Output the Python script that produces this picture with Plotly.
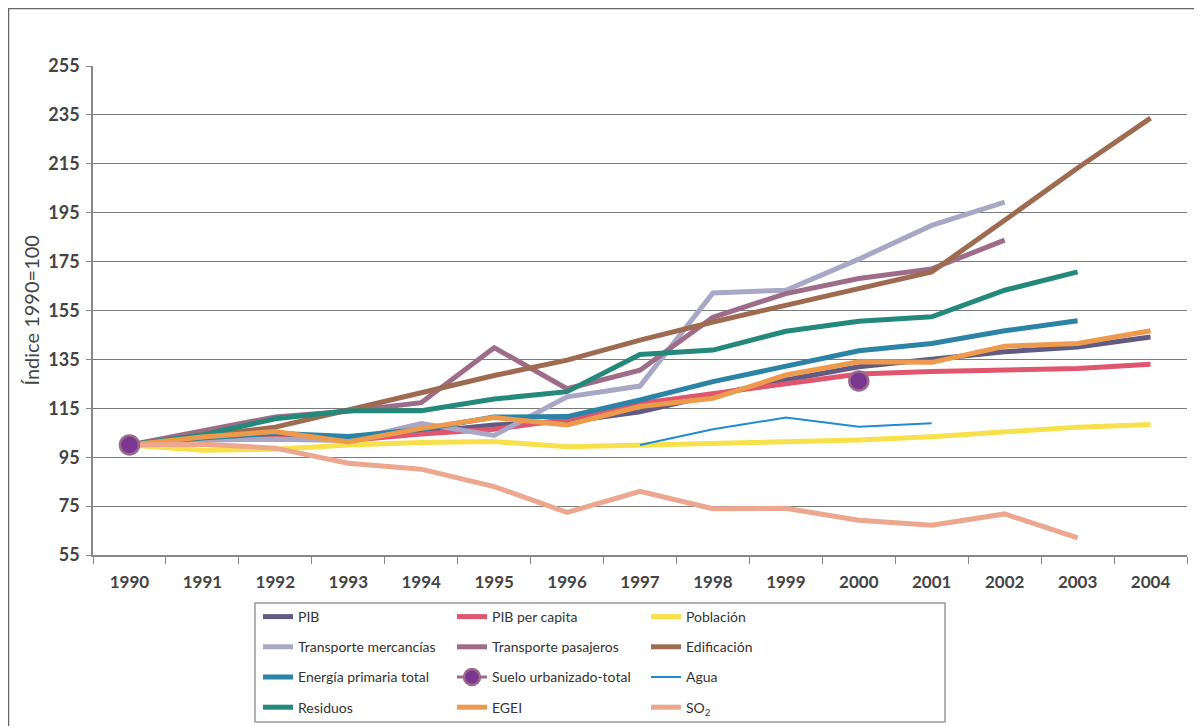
import plotly.graph_objects as go

years = [str(y) for y in range(1990, 2005)]

pib = [100, 102.3, 104.2, 102.2, 105, 108.2, 109.5, 113.6, 120.4, 126.6, 132, 135, 138.1, 140.1, 144.2]
pib_pc = [100, 102, 103.8, 101.8, 104.5, 106.4, 110.5, 117, 121.1, 125.2, 129, 130, 130.9, 131.3, 133]
poblacion = [100, 97.8, 98.3, 100, 101, 101.4, 99.3, 100, 100.7, 101.1, 102, 103.4, 105.4, 107.3, 108.4]
t_merc = [100, 102, 102.3, 101.8, 108.8, 103.9, 119.7, 124.1, 162.2, 163.3, 176, 189.8, 199.3, None, None]
t_pas = [100, 106, 111.5, 113.8, 117.3, 139.8, 123, 130.6, 152.2, 161.9, 168.1, 172, 183.8, None, None]
edificacion = [100, 103.5, 107.3, 114.3, 121.6, 128.4, 134.7, 142.9, 150.3, 157.2, 164, 170.8, 191.9, 213.3, 233.7]
energia = [100, 102.8, 104.8, 103.5, 106.3, 111.4, 111.6, 118.4, 125.9, 132.3, 138.5, 141.5, 146.7, 150.8, None]
suelo = [100, None, None, None, None, None, None, None, None, None, 126.2, None, None, None, None]
agua = [None, None, None, None, None, None, None, 100, 106.4, 111.2, 107.5, 108.9, None, None, None]
residuos = [100, 104.1, 110.7, 114, 114, 118.8, 121.8, 137, 138.8, 146.5, 150.6, 152.4, 163.3, 170.8, None]
egei = [100, 103.3, 105.5, 101.2, 106.8, 111.2, 108.2, 115.7, 119.1, 128.6, 134, 133.8, 140.4, 141.5, 146.7]
so2 = [100, 100.3, 98.7, 92.5, 90.1, 83, 72.4, 81, 73.9, 74.1, 69.2, 67.2, 71.8, 62, None]

y_ticks = list(range(55, 256, 20))
y_title = "Índice 1990=100"

FONT = "Lato"
OFF = 8            # page body margin in the browser
W, H = 1202 - OFF, 726 - OFF

fig = go.Figure()

def add_line(name, vals, color, legend, rank, width=5):
    fig.add_trace(go.Scatter(
        x=years, y=vals, name=name, mode="lines",
        line=dict(color=color, width=width),
        legend=legend, legendrank=rank, legendgroup=name,
        connectgaps=False, hoverinfo="skip"))

add_line("PIB", pib, "#5F5B82", "legend", 1)
add_line("PIB per capita", pib_pc, "#E0566E", "legend2", 1)
add_line("Población", poblacion, "#F8E04A", "legend3", 1)
add_line("Transporte mercancías", t_merc, "#A8A8C6", "legend", 2)
add_line("Transporte pasajeros", t_pas, "#9E6C88", "legend2", 2)
add_line("Edificación", edificacion, "#9E6A50", "legend3", 2)
add_line("Energía primaria total", energia, "#2B83A6", "legend", 3)
add_line("Agua", agua, "#1E8CD2", "legend3", 3, width=2)
add_line("Residuos", residuos, "#24897B", "legend", 4)
add_line("EGEI", egei, "#EE9A4C", "legend2", 4)
add_line("SO<sub>2</sub>", so2, "#ECA78E", "legend3", 4)

fig.add_trace(go.Scatter(
    x=years, y=suelo, name="Suelo urbanizado-total", mode="lines+markers",
    line=dict(color="#9A6A8C", width=3),
    marker=dict(color="#7A3690", size=19, line=dict(color="#9A6A8C", width=2.5)),
    legend="legend2", legendrank=3, legendgroup="suelo",
    connectgaps=False, hoverinfo="skip"))

# screen-pixel targets converted to figure coords
L = 93 - OFF
T = 66 - OFF
R = 1202 - 1187
B = 726 - 555
PW = W - L - R
PH = H - T - B

def px_x(x):  # screen x -> paper
    return (x - OFF - L) / PW

def px_y(y):  # screen y -> paper
    return (H - B - (y - OFF)) / PH

def leg(xs, ys):
    return dict(
        orientation="v", yanchor="top", xanchor="left",
        xref="container", yref="container",
        x=(xs - OFF) / W, y=1 - (ys - OFF) / H,
        font=dict(family=FONT, size=14, color="#333333"),
        bgcolor="rgba(0,0,0,0)", borderwidth=0,
        tracegroupgap=9, traceorder="grouped",
    )

fig.update_layout(
    width=W, height=H,
    margin=dict(l=L, r=R, t=T, b=B, pad=0, autoexpand=False),
    paper_bgcolor="white", plot_bgcolor="white",
    font=dict(family=FONT, color="#444444"),
    showlegend=True,
    legend=leg(258, 601),
    legend2=leg(452, 601),
    legend3=leg(646, 601),
    xaxis=dict(
        type="category", range=[-0.5, 14.5], tickson="boundaries",
        ticks="outside", ticklen=7, tickcolor="#888888", tickwidth=1,
        showline=True, linecolor="#888888", linewidth=1.5,
        showgrid=False, zeroline=False, automargin=False,
        tickfont=dict(family=FONT, size=17, color="#444444", weight="bold"),
        ticklabelstandoff=11,
    ),
    yaxis=dict(
        range=[55, 255], tickvals=y_ticks, ticktext=[str(v) for v in y_ticks],
        ticks="outside", ticklen=5, tickcolor="#888888",
        showline=True, linecolor="#888888", linewidth=1.5,
        showgrid=True, gridcolor="#7a7a7a", gridwidth=1, zeroline=False,
        automargin=False,
        tickfont=dict(family=FONT, size=18, color="#444444", weight="bold"),
        ticklabelstandoff=3,
    ),
    annotations=[
        dict(text=y_title, xref="paper", yref="paper",
             x=px_x(30), y=0.5, xanchor="center", yanchor="middle",
             textangle=-90, showarrow=False,
             font=dict(family=FONT, size=20, color="#444444")),
    ],
    shapes=[
        dict(type="rect", xref="paper", yref="paper",
             x0=px_x(255), x1=px_x(945), y0=px_y(722), y1=px_y(603),
             line=dict(color="#999999", width=1.5), fillcolor="rgba(0,0,0,0)", layer="above"),
        dict(type="line", xref="paper", yref="paper",
             x0=px_x(8), x1=px_x(1205), y0=px_y(8.5), y1=px_y(8.5),
             line=dict(color="#666666", width=1.5)),
        dict(type="line", xref="paper", yref="paper",
             x0=px_x(8.5), x1=px_x(8.5), y0=px_y(8), y1=px_y(730),
             line=dict(color="#666666", width=1.5)),
    ],
)

fig.write_html("out.html")
